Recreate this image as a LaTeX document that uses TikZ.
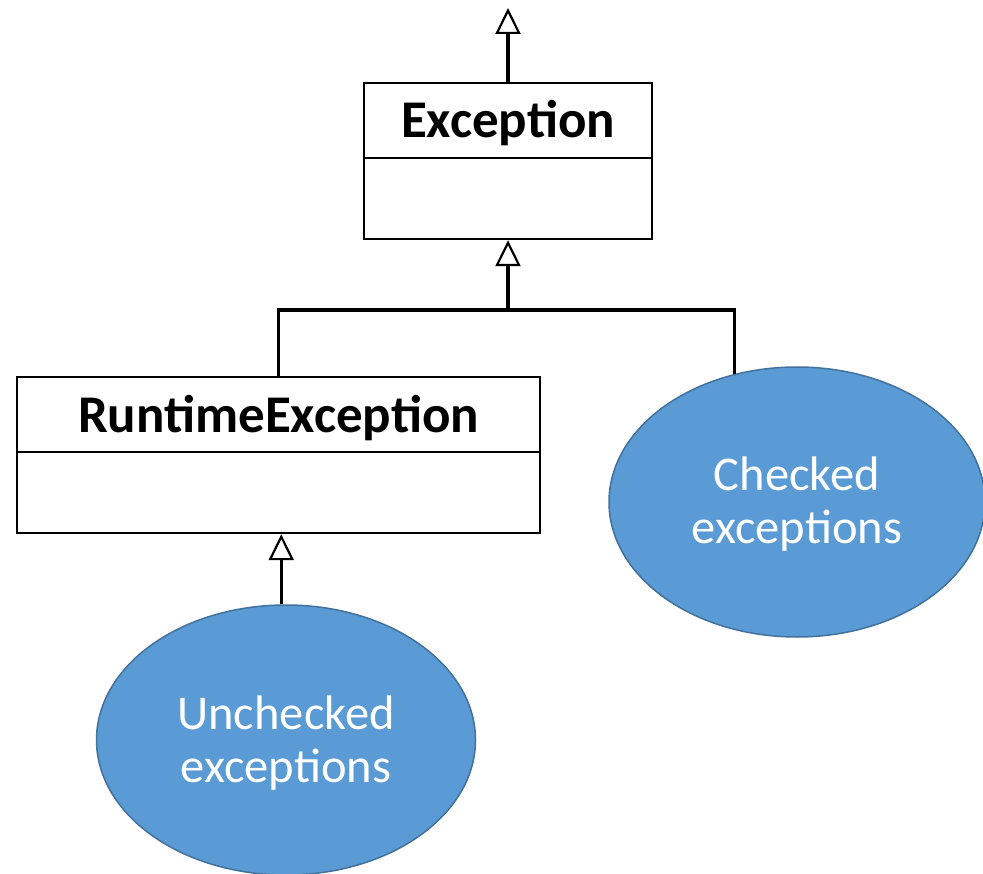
\documentclass[tikz,border=0pt]{standalone}
\usepackage{fontspec}
\setmainfont{Carlito}
\usetikzlibrary{shapes.geometric,arrows.meta}
\definecolor{ellfill}{HTML}{5B9BD5}
\definecolor{elldraw}{HTML}{41719C}
\newcommand{\lowered}[2]{\raisebox{-#1}[\height][\depth]{#2}}
\begin{document}
\begin{tikzpicture}[x=1pt,y=-1pt,
  boxpart/.style={draw=black,line width=2.2pt,rectangle,inner sep=0pt,anchor=north west},
  classname/.style={font=\bfseries\fontsize{53}{60}\selectfont},
  blob/.style={ellipse,fill=ellfill,draw=elldraw,line width=1.5pt,inner sep=0pt,
    text=white,font=\fontsize{48.5}{53}\selectfont},
  inherit/.style={line width=3.5pt,-{Triangle[open,length=26pt,width=25pt,line width=2.2pt]}},
  link/.style={line width=3.5pt}]
\useasboundingbox (0,0) rectangle (983,874);
% Exception class
\node[boxpart,classname,minimum width=288pt,minimum height=75pt] (exctop) at (363,82) {\lowered{2pt}{Exception}};
\node[boxpart,minimum width=288pt,minimum height=81pt] (excbot) at (363,157) {};
% RuntimeException class
\node[boxpart,classname,minimum width=523pt,minimum height=75pt] (rttop) at (16,376) {\lowered{3pt}{RuntimeException}};
\node[boxpart,minimum width=523pt,minimum height=81pt] (rtbot) at (16,451) {};
% ellipses
\node[blob,minimum width=376pt,minimum height=270pt] (chk) at (797,502) {\lowered{4pt}{\begin{tabular}{@{}c@{}}Checked\\exceptions\end{tabular}}};
\node[blob,minimum width=379pt,minimum height=270pt] (unc) at (286,740) {\lowered{5pt}{\begin{tabular}{@{}c@{}}Unchecked\\exceptions\end{tabular}}};
% connectors
\coordinate (up) at (508,8);
\coordinate (junc) at (508,310);
\draw[inherit] (exctop.north -| up) -- (up);
\draw[inherit] (junc) -- (junc |- excbot.south);
\draw[link] (rttop.north) |- (junc) -| (chk.116.7);
\draw[inherit] (unc.92) -- (unc.92 |- rtbot.south);
\end{tikzpicture}
\end{document}
